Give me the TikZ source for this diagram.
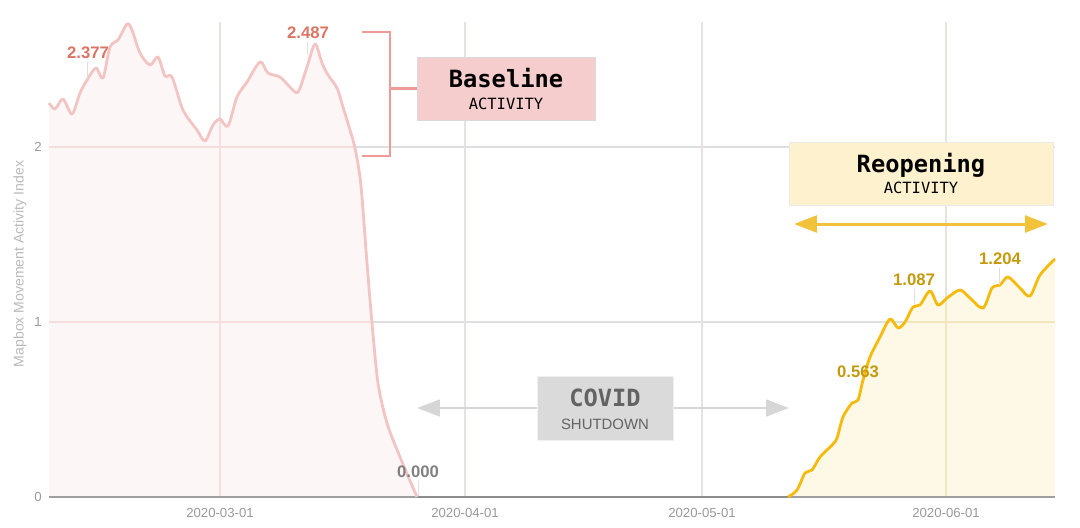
\documentclass[tikz,border=0pt]{standalone}
\usepackage{fontspec}
\setmainfont{Liberation Sans}
\setmonofont{DejaVu Sans Mono}
\usetikzlibrary{arrows.meta,positioning}

\definecolor{gridgray}{HTML}{DDE0DE}
\definecolor{gridvert}{HTML}{E6E3DF}
\definecolor{pinkline}{HTML}{F3C4C4}
\definecolor{pinkfill}{HTML}{FDF6F6}
\definecolor{pinkgrid}{HTML}{F6DEDE}
\definecolor{pinktext}{HTML}{DC7462}
\definecolor{bracketred}{HTML}{EE9A97}
\definecolor{basefill}{HTML}{F5CDCC}
\definecolor{goldline}{HTML}{F6BA0C}
\definecolor{goldfill}{HTML}{FEF8E7}
\definecolor{goldgrid}{HTML}{F4E6BC}
\definecolor{goldtext}{HTML}{C49A0C}
\definecolor{reofill}{HTML}{FDF2CD}
\definecolor{reoarrow}{HTML}{F1C23A}
\definecolor{covfill}{HTML}{D9DAD9}
\definecolor{covarrow}{HTML}{D6D6D6}
\definecolor{covtext}{HTML}{636363}

\tikzset{
  box/.style={draw=#1, line width=0.5pt, inner sep=0pt},
  val/.style={font=\fontsize{9.5}{10}\selectfont\bfseries, anchor=base, inner sep=0pt},
  title/.style={font=\fontsize{13.5}{14}\selectfont\ttfamily\bfseries, anchor=base, inner sep=0pt},
  sub/.style={font=\fontsize{8.8}{10}\selectfont\ttfamily, anchor=base, inner sep=0pt},
  tick/.style={font=\fontsize{7.5}{8}\selectfont, text=gray!80, inner sep=0pt},
  leader/.style={draw=gridgray, line width=0.3pt}
}

% curve shapes, in pixels of the chart
\def\pinkcurve{plot[smooth,tension=0.5] coordinates {(49,103) (55,109) (63,99) (72,114) (80,93) (87,80) (96,68) (103,78) (110,47) (118,40) (127,24) (132,30) (140,53) (150,65) (158,57) (165,76) (172,77) (183,110) (197,130) (205,141) (213,125) (220,119) (228,126) (237,97) (247,82) (260,62) (268,73) (280,77) (290,87) (298,92) (307,67) (315,44) (322,63) (328,75) (337,88) (343,107) (350,130) (355,148) (360,177) (363,210) (367,263) (372,323) (378,383) (387,423) (400,457) (417,497)}}
\def\goldcurve{plot[smooth,tension=0.5] coordinates {(788,497) (797,490) (805,473) (812,470) (820,457) (832,445) (837,438) (843,417) (852,403) (858,400) (863,380) (870,357) (880,337) (890,319) (898,328) (905,322) (913,307) (920,305) (930,291) (938,305) (947,298) (960,290) (970,298) (983,308) (992,288) (1000,285) (1008,277) (1020,288) (1030,296) (1040,275) (1055,259)}}

\begin{document}
\begin{tikzpicture}[x=0.2mm, y=-0.2mm]
    \useasboundingbox (0,0) rectangle (1080,527);

    % grid
    \foreach \gy in {147,322} {
        \draw[gridgray, line width=0.7pt] (49,\gy) -- (1055,\gy);
    }
    \foreach \gx in {220,465,702,946} {
        \draw[gridvert, line width=0.6pt] (\gx,22) -- (\gx,497);
    }

    % areas
    \fill[pinkfill] \pinkcurve -- (49,497) -- cycle;
    \fill[goldfill] \goldcurve -- (1055,497) -- cycle;
    \begin{scope}
        \clip \pinkcurve -- (49,497) -- cycle;
        \draw[pinkgrid, line width=0.6pt] (49,147) -- (417,147) (49,322) -- (417,322) (220,22) -- (220,497);
    \end{scope}
    \begin{scope}
        \clip \goldcurve -- (1055,497) -- cycle;
        \draw[goldgrid, line width=0.6pt] (788,322) -- (1055,322) (946,22) -- (946,497);
    \end{scope}

    % axis and curves
    \draw[gray!75, line width=0.6pt] (49,497) -- (1055,497);
    \draw[gray!90, line width=1.6pt] (417,497) -- (790,497);
    \draw[pinkline, line width=1.6pt, line join=round] \pinkcurve;
    \draw[goldline, line width=1.6pt, line join=round] \goldcurve;

    % axis labels
    \node[tick, anchor=east] (y2) at (42,147) {2};
    \node[tick, anchor=east] (y1) at (42,322) {1};
    \node[tick, anchor=east] (y0) at (42,497) {0};
    \node[tick, anchor=base] (mar) at (220,517) {2020-03-01};
    \node[tick, anchor=base] (apr) at (465,517) {2020-04-01};
    \node[tick, anchor=base] (may) at (702,517) {2020-05-01};
    \node[tick, anchor=base] (jun) at (946,517) {2020-06-01};
    \node[font=\fontsize{8}{9}\selectfont, text=gray!55, rotate=90] (ytitle) at (20,264) {Mapbox Movement Activity Index};

    % value labels
    \node[val, text=pinktext] (v2377) at (88,58) {2.377};
    \node[val, text=pinktext] (v2487) at (308,38) {2.487};
    \node[val, text=gray] (v0000) at (418,477) {0.000};
    \node[val, text=goldtext] (v0563) at (858,377) {0.563};
    \node[val, text=goldtext] (v1087) at (914,285) {1.087};
    \node[val, text=goldtext] (v1204) at (1000,264) {1.204};
    \coordinate (p2377) at (87,78);
    \coordinate (p2487) at (307,55);
    \coordinate (p0000) at (418,496);
    \coordinate (p1087) at (914,305);
    \coordinate (p1204) at (999,285);
    \draw[leader] (87,62) -- (p2377);
    \draw[leader] (307,42) -- (p2487);
    \draw[leader] (418,481) -- (p0000);
    \draw[leader] (914,289) -- (p1087);
    \draw[leader] (999,268) -- (p1204);

    % baseline
    \node[box={black!15}, fill=basefill, minimum width=35.6mm, minimum height=12.6mm] (base) at (506,88.5) {};
    \node[title] (baseT) at (506,87) {Baseline};
    \node[sub] (baseS) at (506,109) {ACTIVITY};
    \coordinate (brTop) at (362,32);
    \coordinate (brBot) at (362,156);
    \draw[bracketred, line width=1.6pt] (brTop) -| (390,156) -- (brBot);
    \draw[bracketred, line width=1.6pt] (390,88.5) -- (base.west);

    % reopening
    \node[box={black!8}, fill=reofill, minimum width=52.8mm, minimum height=12.6mm] (reo) at (921,173.5) {};
    \node[title] (reoT) at (921,172) {Reopening};
    \node[sub] (reoS) at (921,193) {ACTIVITY};
    \coordinate (reoL) at (794,224);
    \coordinate (reoR) at (1048,224);
    \draw[reoarrow, line width=1.7pt, {Triangle[length=13pt,width=9.5pt]}-{Triangle[length=13pt,width=9.5pt]}] (reoL) -- (reoR);

    % covid
    \coordinate (covL) at (417,408);
    \coordinate (covR) at (789,408);
    \draw[covarrow, line width=1.3pt, -{Triangle[length=13pt,width=9.5pt]}] (605,408) -- (covL);
    \draw[covarrow, line width=1.3pt, -{Triangle[length=13pt,width=9.5pt]}] (605,408) -- (covR);
    \node[box={black!6}, fill=covfill, minimum width=27.2mm, minimum height=12.8mm] (covid) at (605,408) {};
    \node[title, text=covtext] (covT) at (605,406.5) {COVID};
    \node[font=\fontsize{8.5}{10}\selectfont, text=covtext, anchor=base, inner sep=0pt] (covS) at (605,429) {SHUTDOWN};
\end{tikzpicture}
\end{document}
